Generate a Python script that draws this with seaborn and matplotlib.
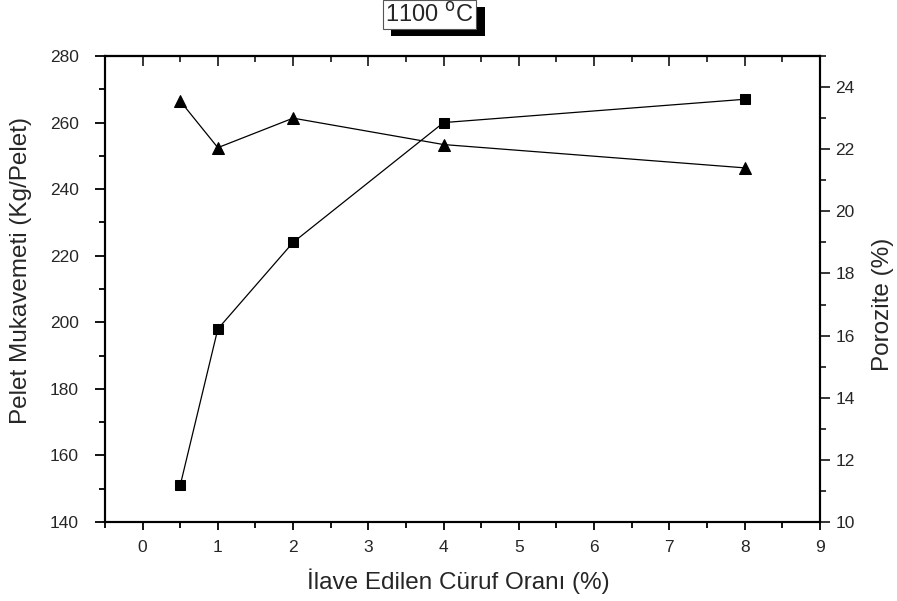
import matplotlib
matplotlib.use("Agg")
import matplotlib.pyplot as plt
import matplotlib.patheffects as pe
from matplotlib.ticker import MultipleLocator
import pandas as pd
import seaborn as sns

# data
curuf = [0.5, 1, 2, 4, 8]
mukavemet = [151, 198, 224, 260, 267]
porozite = [23.55, 22.05, 23.0, 22.15, 21.4]

sns.set_style("ticks")
plt.rcParams['font.family'] = ['Liberation Sans', 'DejaVu Sans']

df = pd.DataFrame({'x': curuf, 'muk': mukavemet, 'por': porozite})

fig = plt.figure(figsize=(8.97, 6.01), dpi=100)
ax = fig.add_axes([0.117, 0.1314, 0.797, 0.7754])
ax2 = ax.twinx()

sns.lineplot(data=df, x='x', y='muk', ax=ax, color='black', lw=0.9,
             marker='s', markersize=7, markeredgecolor='black')
sns.lineplot(data=df, x='x', y='por', ax=ax2, color='black', lw=0.9,
             marker='^', markersize=9, markeredgecolor='black')

ax.set_xlim(-0.5, 9)
ax.set_ylim(140, 280)
ax2.set_ylim(10, 25)
ax.xaxis.set_major_locator(MultipleLocator(1))
ax.xaxis.set_minor_locator(MultipleLocator(0.5))
ax.yaxis.set_major_locator(MultipleLocator(20))
ax.yaxis.set_minor_locator(MultipleLocator(10))
ax2.set_yticks(range(10, 25, 2))
ax2.yaxis.set_minor_locator(MultipleLocator(1))

for a in (ax, ax2):
    for s in a.spines.values():
        s.set_visible(True)
        s.set_linewidth(1.5)
        s.set_color('black')

ax.tick_params(axis='y', which='major', labelsize=12.5, width=1.3, length=7, pad=12, color='black')
ax.tick_params(axis='x', which='major', labelsize=12.5, width=1.3, length=6, pad=7, color='black')
ax.tick_params(axis='both', which='minor', width=1.3, length=4, color='black')
ax.tick_params(axis='x', which='both', top=False, direction='out')
ax2.tick_params(axis='y', which='major', labelsize=12.5, width=1.3, length=7, pad=4, direction='out')
ax2.tick_params(axis='y', which='minor', width=1.3, length=4, direction='out')

# top ticks point inward
top = ax.secondary_xaxis('top')
top.set_xticks(range(0, 10))
top.xaxis.set_minor_locator(MultipleLocator(0.5))
top.tick_params(axis='x', which='major', direction='in', length=7, width=1.3, labeltop=False)
top.tick_params(axis='x', which='minor', direction='in', length=4, width=1.3)
top.spines['top'].set_linewidth(1.5)

ax.set_xlabel('İlave Edilen Cüruf Oranı (%)', fontsize=17.5)
ax.set_ylabel('Pelet Mukavemeti (Kg/Pelet)', fontsize=17.5)
ax2.set_ylabel('Porozite (%)', fontsize=17.5)
ax.xaxis.set_label_coords(0.494, -0.099)
ax.yaxis.set_label_coords(-0.102, 0.54)
ax2.yaxis.set_label_coords(1.0727, 0.468)

t = fig.text(0.479, 0.976, '1100 $^{\\mathrm{o}}$C', fontsize=17, ha='center', va='center',
             bbox=dict(boxstyle='square,pad=0.1', fc='white', ec='#555555', lw=0.8))
t.get_bbox_patch().set_path_effects([
    pe.withSimplePatchShadow(offset=(6, -5), shadow_rgbFace='black', alpha=1.0)])

fig.savefig('out.png', dpi=100)
